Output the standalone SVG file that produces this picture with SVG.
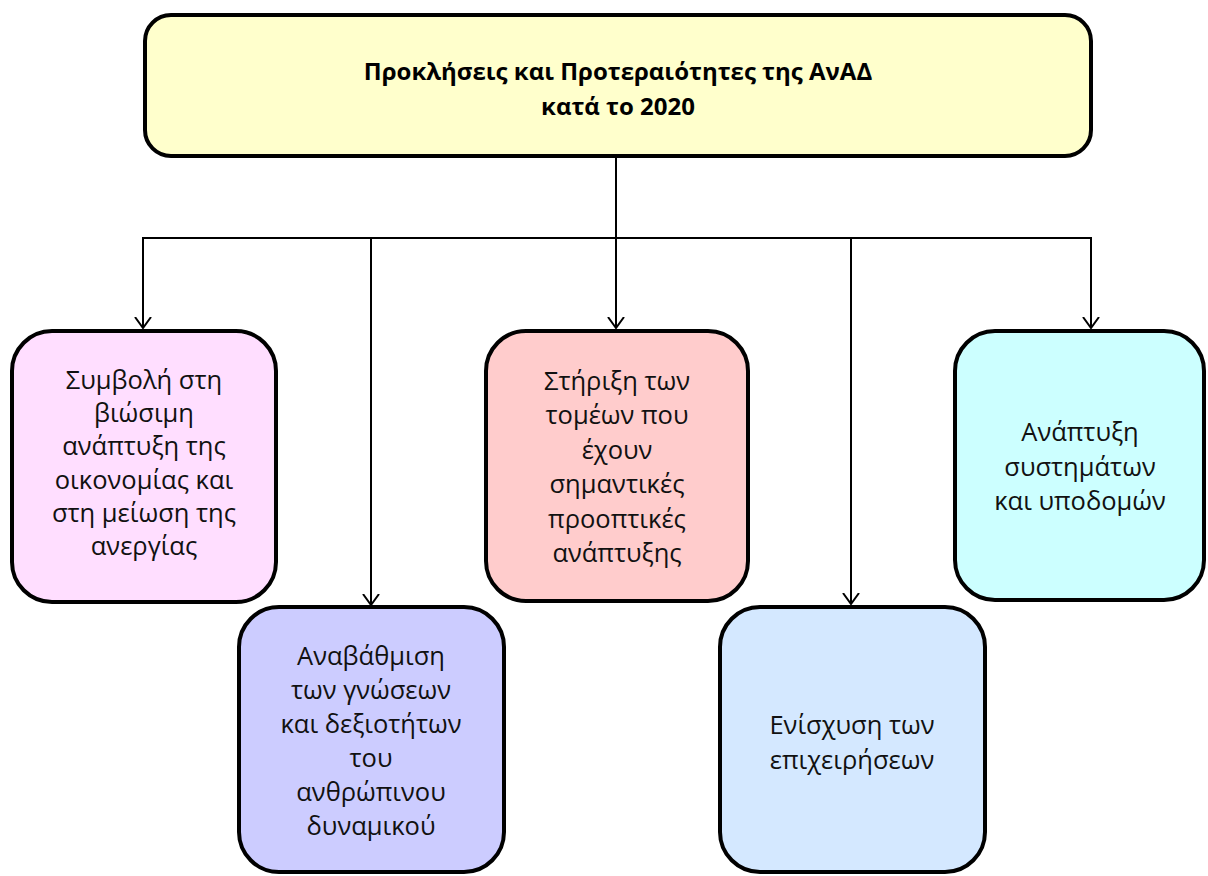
<svg xmlns="http://www.w3.org/2000/svg" width="1208" height="876" viewBox="0 0 1208 876">
<style>
.box{stroke:#000;stroke-width:4}
.t{font-family:"Open Sans","Noto Sans","DejaVu Sans",sans-serif;font-size:25.5px;fill:#111;text-anchor:middle}
.tb{font-family:"Open Sans","Noto Sans","DejaVu Sans",sans-serif;font-size:24px;font-weight:bold;fill:#000;text-anchor:middle}
.c{stroke:#000;stroke-width:2;fill:none}
</style>
<defs>
<marker id="arr" viewBox="0 0 12 18" refX="11" refY="9" markerWidth="12" markerHeight="18" markerUnits="userSpaceOnUse" orient="auto">
<path d="M0,1 L11,9 L0,17" fill="none" stroke="#000" stroke-width="2"/>
</marker>
</defs>
<rect width="1208" height="876" fill="#fff"/>
<g id="connectors">
<path class="c" d="M616,157 V328" marker-end="url(#arr)"/>
<path class="c" d="M143,238 H1091"/>
<path class="c" d="M143,237 V328" marker-end="url(#arr)"/>
<path class="c" d="M371,238 V605" marker-end="url(#arr)"/>
<path class="c" d="M851,238 V604" marker-end="url(#arr)"/>
<path class="c" d="M1091,237 V328" marker-end="url(#arr)"/>
</g>
<g id="root">
<rect class="box" x="145" y="15" width="946" height="141" rx="26" fill="#FFFFCC"/>
<text class="tb" x="618" y="80">Προκλήσεις και Προτεραιότητες της ΑνΑΔ</text>
<text class="tb" x="618" y="115">κατά το 2020</text>
</g>
<g id="n1">
<rect class="box" x="12" y="331" width="264" height="271" rx="40" fill="#FFDEFF"/>
<text class="t" x="144" y="389">Συμβολή στη</text>
<text class="t" x="144" y="422">βιώσιμη</text>
<text class="t" x="144" y="455">ανάπτυξη της</text>
<text class="t" x="144" y="489">οικονομίας και</text>
<text class="t" x="144" y="522">στη μείωση της</text>
<text class="t" x="144" y="555">ανεργίας</text>
</g>
<g id="n2">
<rect class="box" x="239" y="607" width="265" height="265" rx="40" fill="#CCCCFF"/>
<text class="t" x="371" y="665">Αναβάθμιση</text>
<text class="t" x="371" y="699">των γνώσεων</text>
<text class="t" x="371" y="733">και δεξιοτήτων</text>
<text class="t" x="371" y="767">του</text>
<text class="t" x="371" y="801">ανθρώπινου</text>
<text class="t" x="371" y="835">δυναμικού</text>
</g>
<g id="n3">
<rect class="box" x="486" y="331" width="262" height="270" rx="40" fill="#FFCCCC"/>
<text class="t" x="617" y="390">Στήριξη των</text>
<text class="t" x="617" y="424">τομέων που</text>
<text class="t" x="617" y="459">έχουν</text>
<text class="t" x="617" y="493">σημαντικές</text>
<text class="t" x="617" y="528">προοπτικές</text>
<text class="t" x="617" y="562">ανάπτυξης</text>
</g>
<g id="n4">
<rect class="box" x="720" y="607" width="265" height="265" rx="40" fill="#D4E8FF"/>
<text class="t" x="852" y="734">Ενίσχυση των</text>
<text class="t" x="852" y="769">επιχειρήσεων</text>
</g>
<g id="n5">
<rect class="box" x="955" y="331" width="249" height="269" rx="40" fill="#CCFFFF"/>
<text class="t" x="1080" y="441">Ανάπτυξη</text>
<text class="t" x="1080" y="476">συστημάτων</text>
<text class="t" x="1080" y="510">και υποδομών</text>
</g>
</svg>
